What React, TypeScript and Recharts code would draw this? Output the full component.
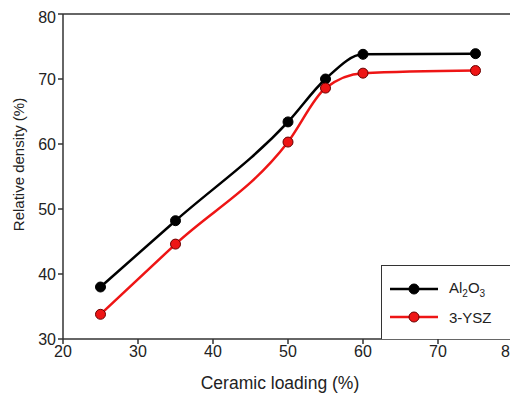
import { FC } from "react";
import {
  LineChart,
  Line,
  XAxis,
  YAxis,
  ReferenceLine,
} from "recharts";

const loading = [25, 35, 50, 55, 60, 75];
const al2o3 = [38.0, 48.2, 63.4, 70.0, 73.8, 73.9];
const ysz = [33.8, 44.6, 60.3, 68.6, 70.9, 71.3];
const xTicks = [20, 30, 40, 50, 60, 70, 80];
const yTicks = [30, 40, 50, 60, 70, 80];

const data = loading.map((x, i) => ({ x, al2o3: al2o3[i], ysz: ysz[i] }));

const FONT = "Arial, 'Liberation Sans', sans-serif";
const AXIS = "#333";
const RED = "#ee1515";

const XLabel: FC<any> = ({ viewBox }) => (
  <text
    x={viewBox.x + viewBox.width / 2 - 8}
    y={viewBox.y + 50}
    textAnchor="middle"
    fontSize={17.5}
    fontFamily={FONT}
    fill="#222"
  >
    Ceramic loading (%)
  </text>
);

const YLabel: FC<any> = ({ viewBox }) => {
  const cx = 10;
  const cy = viewBox.y + viewBox.height / 2 - 12;
  return (
    <text
      x={cx}
      y={cy}
      transform={`rotate(-90, ${cx}, ${cy})`}
      textAnchor="middle"
      dominantBaseline="central"
      fontSize={15}
      fontFamily={FONT}
      fill="#222"
    >
      Relative density (%)
    </text>
  );
};

const LegendRow: FC<{ color: string; dotStroke: string; children: any }> = ({
  color,
  dotStroke,
  children,
}) => (
  <div style={{ display: "flex", alignItems: "center", height: 28 }}>
    <svg width={50} height={12} style={{ marginLeft: 8 }}>
      <line x1={0} y1={6} x2={48} y2={6} stroke={color} strokeWidth={2.5} />
      <circle cx={24} cy={6} r={5} fill={color} stroke={dotStroke} />
    </svg>
    <span style={{ marginLeft: 9 }}>{children}</span>
  </div>
);

export default function App() {
  return (
    <div style={{ position: "relative", width: 510, height: 388 }}>
      <LineChart
        width={510}
        height={388}
        data={data}
        margin={{ top: 6, right: 5, bottom: 0, left: 0 }}
      >
        <XAxis
          dataKey="x"
          type="number"
          domain={[20, 80]}
          ticks={xTicks}
          height={57}
          tickSize={5}
          stroke={AXIS}
          strokeWidth={1.5}
          tick={{ fill: "#222", fontSize: 16, fontFamily: FONT }}
          label={<XLabel />}
        />
        <YAxis
          type="number"
          domain={[30, 80]}
          ticks={yTicks}
          width={55}
          tickSize={5}
          stroke={AXIS}
          strokeWidth={1.5}
          tick={{ fill: "#222", fontSize: 16, fontFamily: FONT }}
          label={<YLabel />}
        />
        <ReferenceLine y={80} stroke={AXIS} strokeWidth={1.5} />
        <ReferenceLine x={80} stroke={AXIS} strokeWidth={1.5} />
        <Line
          type="monotone"
          dataKey="al2o3"
          stroke="#000"
          strokeWidth={2.5}
          dot={{ r: 5, fill: "#000", stroke: "#000", strokeWidth: 1 }}
          isAnimationActive={false}
        />
        <Line
          type="monotone"
          dataKey="ysz"
          stroke={RED}
          strokeWidth={2.5}
          dot={{ r: 5, fill: RED, stroke: "#6a0000", strokeWidth: 1 }}
          isAnimationActive={false}
        />
      </LineChart>
      <div
        style={{
          position: "absolute",
          left: 373,
          top: 257,
          width: 132,
          height: 74,
          borderLeft: `1.5px solid ${AXIS}`,
          borderTop: `1.5px solid ${AXIS}`,
          boxSizing: "border-box",
          background: "#fff",
          fontFamily: FONT,
          fontSize: 15,
          color: "#222",
          paddingTop: 9,
        }}
      >
        <LegendRow color="#000" dotStroke="#000">
          Al<sub style={{ fontSize: 10 }}>2</sub>O<sub style={{ fontSize: 10 }}>3</sub>
        </LegendRow>
        <LegendRow color={RED} dotStroke="#6a0000">
          3-YSZ
        </LegendRow>
      </div>
    </div>
  );
}
